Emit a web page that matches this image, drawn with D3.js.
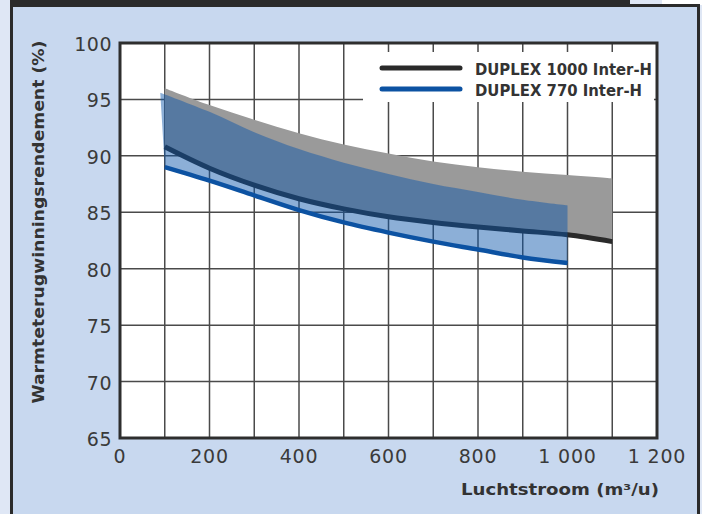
<!DOCTYPE html>
<html><head><meta charset="utf-8">
<script src="https://cdn.jsdelivr.net/npm/d3@7"></script>
<style>
html,body{margin:0;padding:0;background:#dfe7f5;}
svg{display:block;}
</style></head>
<body>
<svg id="chart" width="702" height="514"></svg>
<script>
// ---- data ----
const xTickValues = [0, 200, 400, 600, 800, 1000, 1200];
const xTickLabels = ["0", "200", "400", "600", "800", "1 000", "1 200"];
const yTickValues = [65, 70, 75, 80, 85, 90, 95, 100];
const yTickLabels = ["65", "70", "75", "80", "85", "90", "95", "100"];
const seriesNames = ["DUPLEX 1000 Inter-H", "DUPLEX 770 Inter-H"];

const flow1000 = [100, 200, 300, 400, 500, 600, 700, 800, 900, 1000, 1100];
const eff1000 = [90.8, 88.9, 87.4, 86.2, 85.3, 84.6, 84.1, 83.7, 83.35, 83.0, 82.4];
const rangeTop1000 = [96.0, 94.5, 93.2, 92.0, 91.0, 90.2, 89.5, 89.0, 88.6, 88.3, 88.0];

const flow770 = [100, 200, 300, 400, 500, 600, 700, 800, 900, 1000];
const eff770 = [89.0, 87.8, 86.5, 85.2, 84.1, 83.2, 82.4, 81.7, 81.0, 80.5];
const rangeTopFlow770 = [90, 200, 300, 400, 500, 600, 700, 800, 900, 1000];
const rangeTop770 = [95.6, 93.9, 92.1, 90.6, 89.4, 88.4, 87.5, 86.8, 86.1, 85.6];

// ---- layout ----
const svg = d3.select("#chart");
const W = 702, H = 514;
const plot = {left: 120, right: 657, top: 43, bottom: 438};

const x = d3.scaleLinear().domain([0, 1200]).range([plot.left, plot.right]);
const y = d3.scaleLinear().domain([65, 100]).range([plot.bottom, plot.top]);

// page pieces
svg.append("rect").attr("x", 0).attr("y", 0).attr("width", W).attr("height", H).attr("fill", "#dfe7f5");
svg.append("rect").attr("x", 662).attr("y", 0).attr("width", 40).attr("height", 5).attr("fill", "#ffffff");
svg.append("rect").attr("x", 11.5).attr("y", 5.5).attr("width", 687).attr("height", 520)
  .attr("fill", "#c8d8ef").attr("stroke", "#2b2b2b").attr("stroke-width", 3);
svg.append("rect").attr("x", 10).attr("y", 0).attr("width", 620).attr("height", 6).attr("fill", "#2b2b2b");

// plot background
svg.append("rect").attr("x", plot.left).attr("y", plot.top)
  .attr("width", plot.right - plot.left).attr("height", plot.bottom - plot.top).attr("fill", "#ffffff");

// gridlines
const gx = d3.range(100, 1200, 100);
svg.append("g").selectAll("line").data(gx).join("line")
  .attr("x1", d => x(d)).attr("x2", d => x(d))
  .attr("y1", plot.top).attr("y2", plot.bottom)
  .attr("stroke", "#4a4a4a").attr("stroke-width", 1.5);
svg.append("g").selectAll("line").data(yTickValues.slice(1, -1)).join("line")
  .attr("x1", plot.left).attr("x2", plot.right)
  .attr("y1", d => y(d)).attr("y2", d => y(d))
  .attr("stroke", "#4a4a4a").attr("stroke-width", 1.5);

// legend box (covers grid)
svg.append("rect").attr("x", 363).attr("y", 52).attr("width", 291).attr("height", 50).attr("fill", "#ffffff");

// ---- data marks ----
const d1000 = flow1000.map((f, i) => ({f, v: eff1000[i], top: rangeTop1000[i]}));
const d770 = flow770.map((f, i) => ({f, v: eff770[i]}));
const top770 = rangeTopFlow770.map((f, i) => ({f, v: rangeTop770[i]}));

const curve = d3.curveCatmullRom.alpha(0.5);

// grey band (1000)
const area1000 = d3.area().x(d => x(d.f)).y0(d => y(d.v)).y1(d => y(d.top)).curve(curve);
svg.append("path").datum(d1000).attr("d", area1000).attr("fill", "#9a9a9a");

// black line
const line = d3.line().x(d => x(d.f)).y(d => y(d.v)).curve(curve);
svg.append("path").datum(d1000).attr("d", line)
  .attr("fill", "none").attr("stroke", "#2a2a2a").attr("stroke-width", 5);

// blue band (770): top edge then back along efficiency line
const topPath = line(top770);
const botPath = line(d770.slice().reverse());
svg.append("path")
  .attr("d", topPath + "L" + botPath.slice(1) + "Z")
  .attr("fill", "rgb(10,85,170)").attr("fill-opacity", 0.47);

// blue line
svg.append("path").datum(d770).attr("d", line)
  .attr("fill", "none").attr("stroke", "#0c52a2").attr("stroke-width", 4.5);

// frame
svg.append("rect").attr("x", plot.left).attr("y", plot.top)
  .attr("width", plot.right - plot.left).attr("height", plot.bottom - plot.top)
  .attr("fill", "none").attr("stroke", "#2e2e2e").attr("stroke-width", 3);

// ---- axes labels ----
const tickFont = "'DejaVu Sans', sans-serif";
svg.append("g").selectAll("text").data(xTickValues).join("text")
  .attr("x", d => x(d)).attr("y", 463)
  .attr("text-anchor", "middle")
  .attr("font-family", tickFont).attr("font-size", 19).attr("letter-spacing", 0.8)
  .attr("fill", "#3a3a3a")
  .text((d, i) => xTickLabels[i]);

svg.append("g").selectAll("text").data(yTickValues).join("text")
  .attr("x", 112).attr("y", d => y(d) + 8)
  .attr("text-anchor", "end")
  .attr("font-family", tickFont).attr("font-size", 19).attr("letter-spacing", 0.5)
  .attr("fill", "#3a3a3a")
  .text((d, i) => yTickLabels[i]);

// axis titles
svg.append("text")
  .attr("x", 659).attr("y", 495)
  .attr("text-anchor", "end")
  .attr("font-family", tickFont).attr("font-weight", "bold").attr("font-size", 16)
  .attr("fill", "#333333")
  .attr("textLength", 198).attr("lengthAdjust", "spacingAndGlyphs")
  .text("Luchtstroom (m³/u)");

svg.append("text")
  .attr("transform", "translate(44,222) rotate(-90)")
  .attr("text-anchor", "middle")
  .attr("font-family", tickFont).attr("font-weight", "bold").attr("font-size", 16)
  .attr("fill", "#333333")
  .attr("textLength", 363).attr("lengthAdjust", "spacingAndGlyphs")
  .text("Warmteterugwinningsrendement (%)");

// ---- legend ----
const legendColors = ["#2a2a2a", "#0c52a2"];
const legendY = [68, 89];
const legendLen = [177, 167];
const lg = svg.append("g");
seriesNames.forEach((name, i) => {
  lg.append("line").attr("x1", 382).attr("x2", 460)
    .attr("y1", legendY[i]).attr("y2", legendY[i])
    .attr("stroke", legendColors[i]).attr("stroke-width", 5).attr("stroke-linecap", "round");
  lg.append("text").attr("x", 475).attr("y", legendY[i] + 6.5)
    .attr("font-family", tickFont).attr("font-weight", "bold").attr("font-size", 16)
    .attr("fill", "#333333")
    .attr("textLength", legendLen[i]).attr("lengthAdjust", "spacingAndGlyphs")
    .text(name);
});
</script>
</body></html>
